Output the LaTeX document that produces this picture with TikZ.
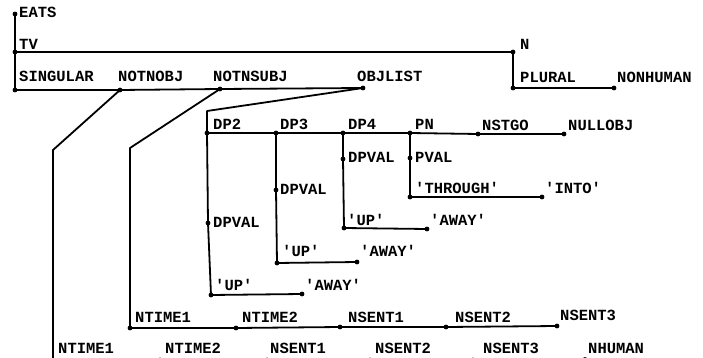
\documentclass[tikz,border=0pt]{standalone}
\usepackage{fontspec}
\newfontfamily\tw{Liberation Mono}
\tikzset{
  lbl/.style={anchor=base west, inner sep=0pt, font=\fontsize{15.5}{16}\selectfont\tw\bfseries},
  wire/.style={line width=1.8pt, line join=round},
}
\newcommand{\dotat}[1]{\fill (#1) circle (2.4);}
\begin{document}
\begin{tikzpicture}[x=1pt,y=-1pt]
\useasboundingbox (0,0) rectangle (703,358);
\clip (0,0) rectangle (703,358);
% coordinates
\coordinate (eats) at (15,14);
\coordinate (tv) at (15,52);
\coordinate (sing) at (15,90);
\coordinate (n) at (513,52);
\coordinate (plur) at (513,88);
\coordinate (nonhum) at (614,88);
\coordinate (notnobj) at (120,90);
\coordinate (notnsubj) at (220,89);
\coordinate (objlist) at (363,88);
\coordinate (bA) at (53,150);
\coordinate (bB) at (130,148);
\coordinate (bC) at (207,111);
\coordinate (dp2) at (207,133);
\coordinate (dp3) at (276,133);
\coordinate (dp4) at (343,133);
\coordinate (pn) at (410,133);
\coordinate (nstgo) at (478,134);
\coordinate (nullobj) at (564,134);
\coordinate (dpval2) at (208,223);
\coordinate (up2) at (211,295);
\coordinate (away2) at (302,294);
\coordinate (dpval3) at (276,190);
\coordinate (up3) at (277,263);
\coordinate (away3) at (357,262);
\coordinate (dpval4) at (343,159);
\coordinate (up4) at (344,228);
\coordinate (away4) at (427,229);
\coordinate (pval) at (410,158);
\coordinate (thr) at (410,197);
\coordinate (into) at (542,197);
\coordinate (nt1u) at (130,328);
\coordinate (nt2u) at (236,328);
\coordinate (ns1u) at (340,327);
\coordinate (ns2u) at (446,327);
\coordinate (ns3u) at (557,326);
\coordinate (nt1b) at (53,360);
\coordinate (nt2b) at (160,360);
\coordinate (ns1b) at (267,360);
\coordinate (ns2b) at (370,360);
\coordinate (ns3b) at (473,360);
\coordinate (nhum) at (585,359.5);
% wires
\draw[wire] (eats) -- (tv) -- (sing);
\draw[wire] (tv) -- (n) -- (plur) -- (nonhum);
\draw[wire] (sing) -- (notnobj) -- (notnsubj) -- (objlist);
\draw[wire] (notnobj) -- (bA) -- (nt1b) -- (nt2b) -- (ns1b) -- (ns2b) -- (ns3b) -- (nhum);
\draw[wire] (notnsubj) -- (bB) -- (nt1u) -- (nt2u) -- (ns1u) -- (ns2u) -- (ns3u);
\draw[wire] (objlist) -- (bC) -- (dp2) -- (dpval2) -- (up2) -- (away2);
\draw[wire] (dp2) -- (dp3) -- (dp4) -- (pn) -- (nstgo) -- (nullobj);
\draw[wire] (dp3) -- (dpval3) -- (up3) -- (away3);
\draw[wire] (dp4) -- (dpval4) -- (up4) -- (away4);
\draw[wire] (pn) -- (pval) -- (thr) -- (into);
% dots
\foreach \p in {eats,tv,sing,n,plur,nonhum,notnobj,notnsubj,objlist,dp2,dp3,dp4,pn,nstgo,nullobj,
  dpval2,up2,away2,dpval3,up3,away3,dpval4,up4,away4,pval,thr,into,
  nt1u,nt2u,ns1u,ns2u,ns3u,nt1b,nt2b,ns1b,ns2b,ns3b,nhum}{\dotat{\p}}
% labels
\node[lbl] (lEATS) at (19,18) {EATS};
\node[lbl] (lTV) at (19,50) {TV};
\node[lbl] (lN) at (520,50) {N};
\node[lbl] (lSING) at (19,82) {SINGULAR};
\node[lbl] (lNOTNOBJ) at (118,82) {NOTNOBJ};
\node[lbl] (lNOTNSUBJ) at (213,82) {NOTNSUBJ};
\node[lbl] (lOBJLIST) at (357,82) {OBJLIST};
\node[lbl] (lPLURAL) at (520,83) {PLURAL};
\node[lbl] (lNONHUMAN) at (617,83) {NONHUMAN};
\node[lbl] (lDP2) at (213,130) {DP2};
\node[lbl] (lDP3) at (280,130) {DP3};
\node[lbl] (lDP4) at (348,130) {DP4};
\node[lbl] (lPN) at (415,130) {PN};
\node[lbl] (lNSTGO) at (482,131) {NSTGO};
\node[lbl] (lNULLOBJ) at (568,131) {NULLOBJ};
\node[lbl] (lDPVAL4) at (348,163) {DPVAL};
\node[lbl] (lPVAL) at (415,163) {PVAL};
\node[lbl] (lDPVAL3) at (280,194) {DPVAL};
\node[lbl] (lTHR) at (415,193) {'THROUGH'};
\node[lbl] (lINTO) at (545,193) {'INTO'};
\node[lbl] (lUP4) at (347,225) {'UP'};
\node[lbl] (lAWAY4) at (430,225) {'AWAY'};
\node[lbl] (lDPVAL2) at (213,227) {DPVAL};
\node[lbl] (lUP3) at (282,256) {'UP'};
\node[lbl] (lAWAY3) at (360,256) {'AWAY'};
\node[lbl] (lUP2) at (215,290) {'UP'};
\node[lbl] (lAWAY2) at (305,290) {'AWAY'};
\node[lbl] (lNT1u) at (135,322) {NTIME1};
\node[lbl] (lNT2u) at (242,322) {NTIME2};
\node[lbl] (lNS1u) at (348,322) {NSENT1};
\node[lbl] (lNS2u) at (455,322) {NSENT2};
\node[lbl] (lNS3u) at (560,320) {NSENT3};
\node[lbl] (lNT1b) at (58,353) {NTIME1};
\node[lbl] (lNT2b) at (165,353) {NTIME2};
\node[lbl] (lNS1b) at (270,353) {NSENT1};
\node[lbl] (lNS2b) at (375,353) {NSENT2};
\node[lbl] (lNS3b) at (483,353) {NSENT3};
\node[lbl] (lNHUM) at (588,353) {NHUMAN};
\end{tikzpicture}
\end{document}
